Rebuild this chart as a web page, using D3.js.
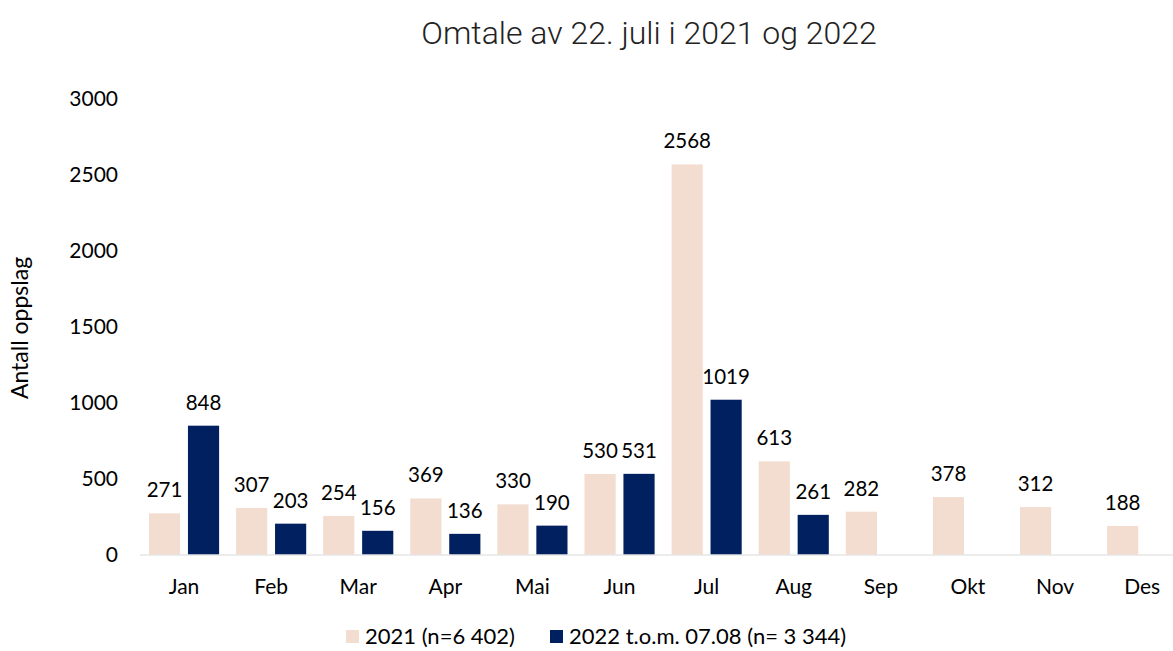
<!DOCTYPE html>
<html>
<head>
<meta charset="utf-8">
<script src="https://cdn.jsdelivr.net/npm/d3@7"></script>
<style>
  body { margin: 0; background: #fff; }
  svg { display: block; }
  .txt { font-family: Lato, "Open Sans", sans-serif; fill: #000; }
</style>
</head>
<body>
<svg id="chart" width="1173" height="651"></svg>
<script>
var months = ['Jan', 'Feb', 'Mar', 'Apr', 'Mai', 'Jun', 'Jul', 'Aug', 'Sep', 'Okt', 'Nov', 'Des'];
var v2021 = [271, 307, 254, 369, 330, 530, 2568, 613, 282, 378, 312, 188];
var v2022 = [848, 203, 156, 136, 190, 531, 1019, 261, null, null, null, null];
var yTicks = [0, 500, 1000, 1500, 2000, 2500, 3000];
var seriesNames = ['2021 (n=6 402)', '2022 t.o.m. 07.08 (n= 3 344)'];
var colors = ['#F2DDD0', '#002060'];

var svg = d3.select('#chart');

// scales: plot runs past the right edge, like the original
var x = d3.scaleBand().domain(months).range([140.5, 1185.7]).paddingInner(0).paddingOuter(0);
var inner = d3.scaleBand().domain([0, 1]).range([8.5, x.bandwidth() - 8.5]).paddingInner(0.2);
var y = d3.scaleLinear().domain([0, 3000]).range([554.5, 98.8]);

// title
svg.append('text')
    .attr('x', 649).attr('y', 44)
    .attr('text-anchor', 'middle')
    .style('font-family', 'Roboto, sans-serif')
    .style('font-weight', 300)
    .style('font-size', '32px')
    .style('fill', '#222')
    .text('Omtale av 22. juli i 2021 og 2022');

// y tick labels
svg.selectAll('.ytick').data(yTicks).enter()
    .append('text')
    .attr('class', 'txt')
    .attr('x', 118).attr('y', function (d) { return y(d) + 7.5; })
    .attr('text-anchor', 'end')
    .style('font-size', '21px')
    .text(function (d) { return d; });

// y axis title
svg.append('text')
    .attr('class', 'txt')
    .attr('transform', 'translate(28,328) rotate(-90)')
    .attr('text-anchor', 'middle')
    .style('font-size', '23px')
    .text('Antall oppslag');

// bars
[v2021, v2022].forEach(function (vals, s) {
    var g = svg.append('g');
    var data = months.map(function (m, i) { return { m: m, v: vals[i] }; })
        .filter(function (d) { return d.v != null; });
    g.selectAll('rect').data(data).enter()
        .append('rect')
        .attr('x', function (d) { return x(d.m) + inner(s); })
        .attr('width', inner.bandwidth())
        .attr('y', function (d) { return y(d.v); })
        .attr('height', function (d) { return y(0) - y(d.v); })
        .attr('fill', colors[s]);
    g.selectAll('text').data(data).enter()
        .append('text')
        .attr('class', 'txt')
        .attr('x', function (d) { return x(d.m) + inner(s) + inner.bandwidth() / 2; })
        .attr('y', function (d) { return y(d.v) - 16; })
        .attr('text-anchor', 'middle')
        .style('font-size', '20.5px')
        .text(function (d) { return d.v; });
});

// baseline
svg.append('line')
    .attr('x1', 140).attr('x2', 1173)
    .attr('y1', y(0) + 0.5).attr('y2', y(0) + 0.5)
    .style('stroke', '#d9d9d9')
    .style('stroke-width', 1.2);

// month labels
svg.selectAll('.xlab').data(months).enter()
    .append('text')
    .attr('class', 'txt')
    .attr('x', function (d) { return x(d) + x.bandwidth() / 2; })
    .attr('y', 594)
    .attr('text-anchor', 'middle')
    .style('font-size', '21px')
    .text(function (d) { return d; });

// legend
var legX = [346, 550];
seriesNames.forEach(function (name, s) {
    svg.append('rect')
        .attr('x', legX[s]).attr('y', 630)
        .attr('width', 13).attr('height', 13)
        .attr('fill', colors[s]);
    svg.append('text')
        .attr('class', 'txt')
        .attr('x', legX[s] + 19).attr('y', 644)
        .style('font-size', '22px')
        .text(name);
});
</script>
</body>
</html>
